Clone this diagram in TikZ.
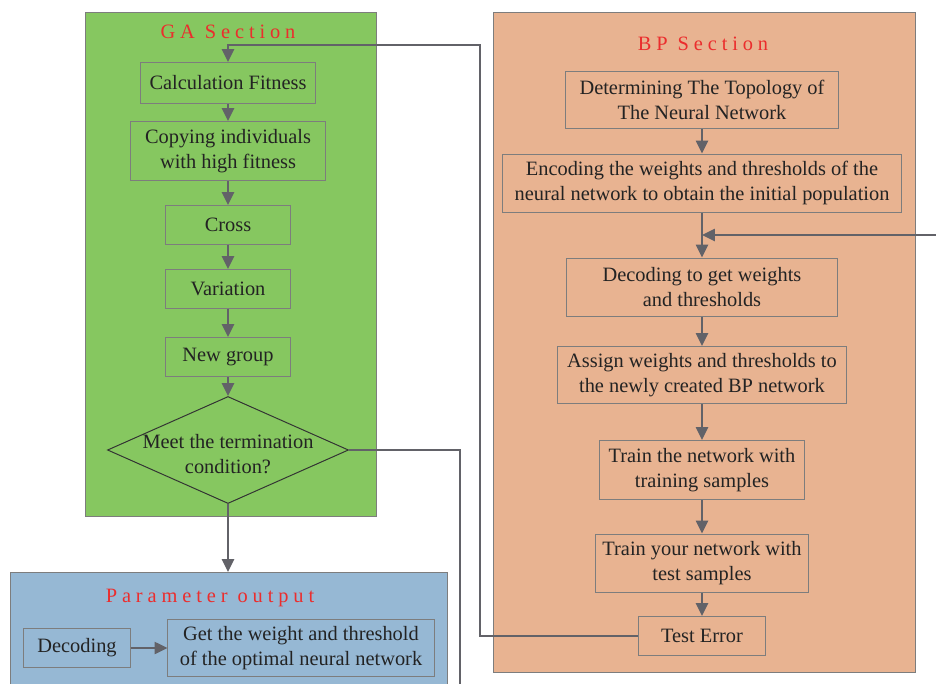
\documentclass[tikz,border=0pt]{standalone}
\usepackage{fontspec}
\setmainfont{Liberation Serif}
\usepackage{tikz}
\usetikzlibrary{arrows.meta,shapes.geometric}
\definecolor{gagreen}{RGB}{134,199,96}
\definecolor{bporange}{RGB}{232,179,145}
\definecolor{parblue}{RGB}{150,184,212}
\definecolor{linegray}{RGB}{98,98,104}
\definecolor{boxgray}{RGB}{125,125,125}
\definecolor{titlered}{RGB}{235,45,45}
\definecolor{inkdark}{RGB}{35,35,35}

\begin{document}
\begin{tikzpicture}[x=0.025cm,y=-0.025cm,>={Triangle[length=3.2mm,width=3mm]},
		font=\fontsize{14.5}{18}\selectfont,text=inkdark]
		\tikzstyle{block}=[draw=boxgray,line width=0.7pt,align=center,inner sep=0pt]
		\tikzstyle{decision}=[diamond,draw=black!80,line width=0.7pt,inner sep=0pt,minimum width=6.025cm,minimum height=2.675cm]
		\tikzstyle{flow}=[->,color=linegray,line width=1.4pt]
		\tikzstyle{section}=[draw=boxgray,line width=0.7pt]
		\tikzstyle{title}=[text=titlered,font=\fontsize{14.5}{16}\selectfont\addfontfeatures{LetterSpace=24}]
		
		\useasboundingbox (0,0) rectangle (936,684);
		
		% section backgrounds
		\filldraw[section,fill=gagreen] (85,12) rectangle (376,516);
		\filldraw[section,fill=bporange] (493,12) rectangle (915,672);
		\fill[parblue] (10,572) rectangle (447,684);
		\draw[section] (10,684) -- (10,572) -- (447,572) -- (447,684);
		
		\node[title] (gatitle) at (228,32) {GA Section};
		\node[title] (bptitle) at (703,44) {BP Section};
		\node[title] (partitle) at (210,598) {Parameter output};
		
		% GA section
		\node[block,minimum width=4.375cm,minimum height=1.025cm] (calc) at (228,83) {Calculation Fitness};
		\node[block,minimum width=4.875cm,minimum height=1.475cm] (copy) at (228,151) {Copying individuals\\with high fitness};
		\node[block,minimum width=3.125cm,minimum height=0.975cm] (cross) at (228,225) {Cross};
		\node[block,minimum width=3.125cm,minimum height=0.975cm] (vari) at (228,289) {Variation};
		\node[block,minimum width=3.125cm,minimum height=0.975cm] (newg) at (228,357) {New group};
		\node[decision,label={[align=center,yshift=-0.1cm]center:{Meet the termination\\condition?}}] (cond) at (228,450) {};
		
		% BP section
		\node[block,minimum width=6.8cm,minimum height=1.425cm] (topo) at (702,100) {Determining The Topology of\\The Neural Network};
		\node[block,minimum width=9.95cm,minimum height=1.45cm] (enc) at (702,183) {Encoding the weights and thresholds of the\\neural network to obtain the initial population};
		\node[block,minimum width=6.775cm,minimum height=1.45cm] (dec) at (702,287) {Decoding to get weights\\and thresholds};
		\node[block,minimum width=7.2cm,minimum height=1.425cm] (assign) at (702,375) {Assign weights and thresholds to\\the newly created BP network};
		\node[block,minimum width=5.1cm,minimum height=1.475cm] (train) at (702,470) {Train the network with\\training samples};
		\node[block,minimum width=5.325cm,minimum height=1.45cm] (test) at (702,563) {Train your network with\\test samples};
		\node[block,minimum width=3.15cm,minimum height=0.975cm] (err) at (702,636) {Test Error};
		
		% parameter output
		\node[block,minimum width=2.65cm,minimum height=0.975cm] (decode) at (77,648) {Decoding};
		\node[block,minimum width=6.65cm,minimum height=1.425cm] (optim) at (301,648) {Get the weight and threshold\\of the optimal neural network};
		
		\coordinate (feedin) at (936,235);
		\coordinate (joint) at (702,235);
		\coordinate (condout) at (460,684);
		
		\path[flow] (calc) edge (copy)
		(copy) edge (cross)
		(cross) edge (vari)
		(vari) edge (newg)
		(newg) edge (cond)
		(cond) edge (cond |- 0,572)
		(topo) edge (enc)
		(enc) edge (dec)
		(dec) edge (assign)
		(assign) edge (train)
		(train) edge (test)
		(test) edge (err)
		(decode) edge (optim)
		(feedin) edge (joint);
		
		\draw[flow] (err.west) -- (480,636) -- (480,45) -- (228,45) -- (calc.north);
		\draw[flow,-] (cond.east) -- (460,450) -- (condout);
\end{tikzpicture}
\end{document}
